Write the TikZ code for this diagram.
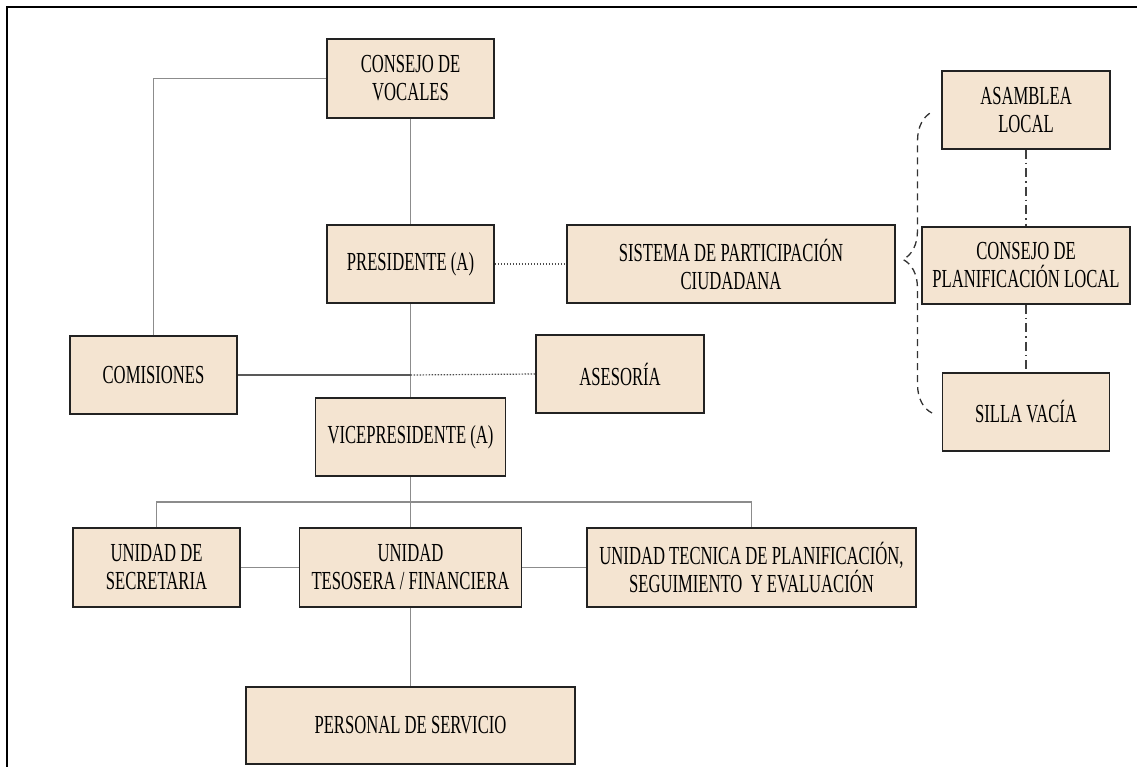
\documentclass[tikz,border=0pt]{standalone}
\usepackage{fontspec}
\setmainfont[FakeStretch=0.64]{Liberation Serif}
\usetikzlibrary{calc,decorations.pathreplacing}
\definecolor{boxfill}{HTML}{F4E4D1}
\definecolor{boxline}{HTML}{222222}
\definecolor{conn}{HTML}{8C8C8C}
\begin{document}
\begin{tikzpicture}[x=1pt,y=-1pt,
  orgbox/.style={draw=boxline, fill=boxfill, line width=1.5pt, inner sep=0pt, align=center, font=\fontsize{26}{28}\selectfont},
  conline/.style={draw=conn, line width=1.3pt},
  darkline/.style={draw=black!65, line width=1.3pt},
  dotline/.style={draw=black!70, line width=1.2pt, dash pattern=on 1.5pt off 1.5pt},
  dashdotline/.style={draw=black!75, line width=1.2pt, dash pattern=on 9pt off 4pt on 1.5pt off 4pt},
  bracestyle/.style={draw=black!80, line width=1.3pt, dash pattern=on 7pt off 5pt, decorate, decoration={brace, amplitude=29pt, aspect=0.51}}]
\useasboundingbox (0,0) rectangle (1137,767);
% frame
\draw[line width=2.2pt] (7,767) -- (7,7) -- (1137,7);

% boxes
\node[orgbox, minimum width=167pt, minimum height=79pt] (cv) at (410.5,78.5) {CONSEJO DE\\VOCALES};
\node[orgbox, minimum width=167pt, minimum height=78pt] (pres) at (410.5,264) {PRESIDENTE (A)};
\node[orgbox, minimum width=328pt, minimum height=78pt] (sis) at (731,264) {SISTEMA DE PARTICIPACIÓN\\CIUDADANA};
\node[orgbox, minimum width=168pt, minimum height=78pt] (asa) at (1026,110) {ASAMBLEA\\LOCAL};
\node[orgbox, minimum width=208pt, minimum height=77pt] (cpl) at (1026,265.5) {CONSEJO DE\\PLANIFICACIÓN LOCAL};
\node[orgbox, minimum width=167pt, minimum height=78pt] (sil) at (1026,412) {SILLA VACÍA};
\node[orgbox, minimum width=167pt, minimum height=78pt] (com) at (153.5,375) {COMISIONES};
\node[orgbox, minimum width=168pt, minimum height=78pt] (ase) at (620,374) {ASESORÍA};
\node[orgbox, minimum width=190pt, minimum height=78pt] (vice) at (410.5,437) {VICEPRESIDENTE (A)};
\node[orgbox, minimum width=167pt, minimum height=79pt] (sec) at (156.5,567.5) {UNIDAD DE\\SECRETARIA};
\node[orgbox, minimum width=222pt, minimum height=79pt] (tes) at (410.5,567.5) {UNIDAD\\TESOSERA / FINANCIERA};
\node[orgbox, minimum width=329pt, minimum height=79pt] (tec) at (751.5,567.5) {UNIDAD TECNICA DE PLANIFICACIÓN,\\SEGUIMIENTO\ \ Y EVALUACIÓN};
\node[orgbox, minimum width=329pt, minimum height=77pt] (per) at (410.5,725.5) {PERSONAL DE SERVICIO};

% connectors
\draw[conline] (cv.south) -- (pres.north);
\draw[conline] (pres.south) -- (vice.north);
\draw[conline] (com.north) |- (cv.west);
\coordinate (jc) at (pres.south |- com.east);
\draw[darkline] (com.east) -- (jc);
\draw[dotline] (jc) -- (ase.west);
\draw[dotline] (pres.east) -- (sis.west);
\coordinate (bus) at ($(vice.south)!0.5!(tes.north)$);
\draw[conline] (sec.north) |- (bus) -| (tec.north);
\draw[conline] (vice.south) -- (tes.north);
\draw[conline] (sec.east) -- (tes.west);
\draw[conline] (tes.east) -- (tec.west);
\draw[conline] (tes.south) -- (per.north);
\draw[dashdotline] (asa.south) -- (cpl.north);
\draw[dashdotline] (cpl.south) -- (sil.north);

% brace
\coordinate (bb) at (932,413);
\coordinate (bt) at (932,112);
\draw[bracestyle] (bb) -- (bt);
\end{tikzpicture}
\end{document}
